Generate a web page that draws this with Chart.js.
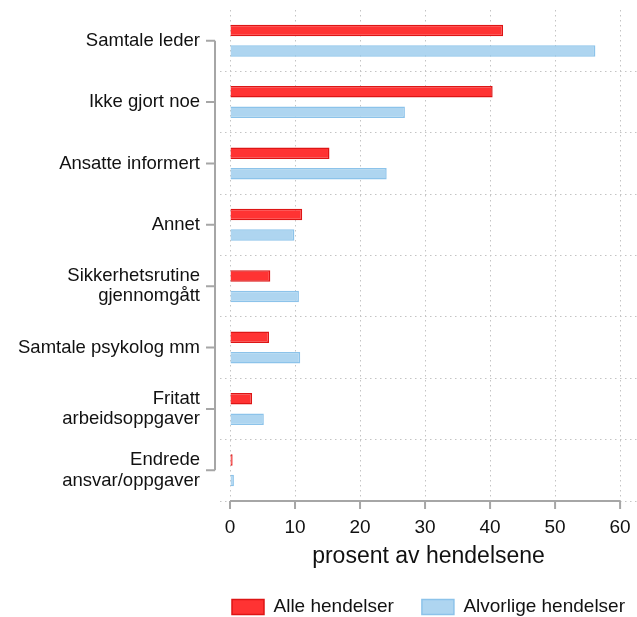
<!DOCTYPE html>
<html lang="no">
<head>
  <meta charset="UTF-8" />
  <title>Tiltak etter hendelser</title>
  <script src="https://cdn.jsdelivr.net/npm/chart.js"></script>
  <style>
    html, body { margin: 0; padding: 0; background: #fff; }
    #wrap { width: 637px; height: 617px; }
  </style>
</head>
<body>
  <div id="wrap"><canvas id="chart" width="637" height="617"></canvas></div>

  <script>
    const categories = [
      'Samtale leder',
      'Ikke gjort noe',
      'Ansatte informert',
      'Annet',
      ['Sikkerhetsrutine', 'gjennomgått'],
      'Samtale psykolog mm',
      ['Fritatt', 'arbeidsoppgaver'],
      ['Endrede', 'ansvar/oppgaver']
    ];
    const alleHendelser = [42.0, 40.4, 15.3, 11.1, 6.2, 6.0, 3.4, 0.4];
    const alvorligeHendelser = [56.2, 26.9, 24.1, 9.9, 10.6, 10.8, 5.2, 0.6];
    const xTicks = [0, 10, 20, 30, 40, 50, 60];

    const axisColor = '#a6a6a6';
    const fontFamily = "'Liberation Sans', Arial, sans-serif";

    // Stata-style axes: y line only between first and last category, x line only 0-60
    const axisLines = {
      id: 'axisLines',
      afterLayout(chart) {
        // legend sits a bit further right than align:'end' puts it
        chart.legend.left += 16;
        chart.legend.right += 16;
      },
      afterDraw(chart) {
        const ctx = chart.ctx;
        const x = chart.scales.x, y = chart.scales.y;
        ctx.save();
        ctx.strokeStyle = axisColor;
        ctx.lineWidth = 2;
        const axX = x.getPixelForValue(0) - 15;
        const y0 = y.getPixelForTick(0), y1 = y.getPixelForTick(categories.length - 1);
        ctx.beginPath();
        ctx.moveTo(axX, y0);
        ctx.lineTo(axX, y1);
        categories.forEach((c, i) => {
          const p = y.getPixelForTick(i);
          ctx.moveTo(axX - 9, p);
          ctx.lineTo(axX, p);
        });
        ctx.stroke();

        const axY = chart.chartArea.bottom;
        ctx.beginPath();
        ctx.moveTo(x.getPixelForValue(xTicks[0]), axY);
        ctx.lineTo(x.getPixelForValue(xTicks[xTicks.length - 1]), axY);
        xTicks.forEach(v => {
          const p = x.getPixelForValue(v);
          ctx.moveTo(p, axY);
          ctx.lineTo(p, axY + 8);
        });
        ctx.stroke();
        ctx.restore();
      }
    };

    new Chart(document.getElementById('chart'), {
      type: 'bar',
      data: {
        labels: categories,
        datasets: [
          {
            label: 'Alle hendelser',
            data: alleHendelser,
            backgroundColor: '#ff3333',
            borderColor: '#dd1515',
            borderWidth: 1.5
          },
          {
            label: 'Alvorlige hendelser',
            data: alvorligeHendelser,
            backgroundColor: '#aed5f0',
            borderColor: '#8cc3ea',
            borderWidth: 1.5
          }
        ]
      },
      options: {
        indexAxis: 'y',
        responsive: false,
        animation: false,
        categoryPercentage: 0.67,
        barPercentage: 0.56,
        layout: { padding: { top: 10, right: 0, left: 0, bottom: -9.5 } },
        scales: {
          x: {
            min: -1.54,
            max: 62.6,
            afterBuildTicks: scale => { scale.ticks = xTicks.map(v => ({ value: v })); },
            afterFit: scale => {
              scale.paddingLeft = 0;
              scale.paddingRight = 0;
              scale.height = 68.5;
            },
            grid: {
              color: '#c4c4c4',
              lineWidth: 1,
              drawTicks: false
            },
            border: { display: false, dash: [1.5, 3.5] },
            ticks: {
              padding: 15,
              color: '#111',
              font: { family: fontFamily, size: 19 }
            },
            title: {
              display: true,
              text: 'prosent av hendelsene',
              color: '#111',
              font: { family: fontFamily, size: 23 },
              padding: { top: 0, bottom: -1.3 }
            }
          },
          y: {
            afterFit: scale => {
              scale.width = 220;
              scale.paddingTop = 0;
              scale.paddingBottom = 0;
            },
            grid: {
              offset: true,
              drawTicks: false,
              color: ctx => (ctx.index === 0 || ctx.index === categories.length) ? 'rgba(0,0,0,0)' : '#c4c4c4'
            },
            border: { display: false, dash: [1.5, 3.5] },
            ticks: {
              padding: 20,
              color: '#111',
              font: { family: fontFamily, size: 18.5, lineHeight: 1.1 }
            }
          }
        },
        plugins: {
          legend: {
            position: 'bottom',
            align: 'end',
            labels: {
              boxWidth: 32,
              boxHeight: 15,
              padding: 28,
              color: '#111',
              font: { family: fontFamily, size: 19 }
            }
          },
          tooltip: { enabled: false }
        }
      },
      plugins: [axisLines]
    });
  </script>
</body>
</html>
